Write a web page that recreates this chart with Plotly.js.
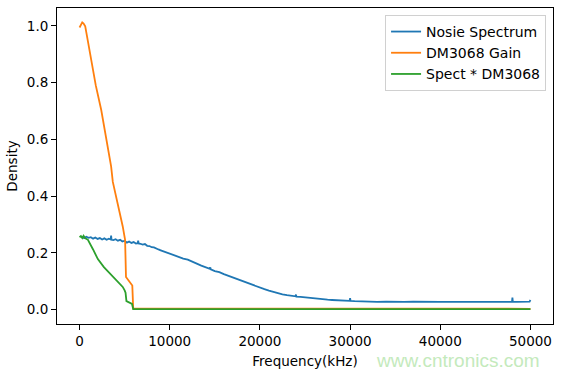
<!DOCTYPE html>
<html>
<head>
<meta charset="utf-8">
<script src="https://cdn.plot.ly/plotly-3.0.1.min.js"></script>
<style>html,body{margin:0;padding:0;background:#fff;}#chart{width:561px;height:373px;}</style>
</head>
<body>
<div id="chart"></div>
<script>
// Noise spectrum (blue)
const spectFreq = [250,500,750,1000,1250,1500,1750,2000,2250,2500,2750,3000,3250,3450,3500,3550,3750,4000,4250,4500,4750,5000,5250,5500,5750,6000,6250,6450,6500,6550,6750,7000,7250,7500,7750,8000,8250,8500,8750,9000,9250,9500,9750,10000,
  10500,11000,11500,12000,12500,13000,13500,14000,14450,14500,14550,15000,15500,16000,16500,17000,17500,18000,18500,19000,19500,20000,20500,21000,21500,22000,22500,23000,23500,23950,24000,24050,24500,25000,25500,26000,26500,27000,27500,28000,28500,29000,29500,29950,30000,30050,30500,31000,31500,32000,33000,34000,35000,36000,37000,38000,39000,40000,41000,42000,43000,44000,45000,46000,47000,47950,48000,48050,48500,49000,49500,49900,50000];
const spectVal = [0.258,0.252,0.257,0.253,0.255,0.250,0.254,0.249,0.252,0.247,0.251,0.246,0.250,0.247,0.261,0.246,0.245,0.248,0.243,0.246,0.240,0.243,0.236,0.240,0.235,0.238,0.233,0.234,0.243,0.233,0.232,0.229,0.231,0.225,0.224,0.220,0.219,0.214,0.212,0.209,0.206,0.204,0.200,0.199,
  0.192,0.186,0.180,0.176,0.168,0.162,0.155,0.150,0.144,0.149,0.142,0.136,0.132,0.125,0.119,0.113,0.107,0.100,0.094,0.088,0.082,0.077,0.072,0.067,0.062,0.058,0.054,0.051,0.048,0.047,0.053,0.046,0.045,0.043,0.041,0.040,0.038,0.036,0.035,0.034,0.033,0.032,0.031,0.031,0.040,0.031,0.030,0.029,0.028,0.028,0.027,0.028,0.027,0.027,0.028,0.027,0.026,0.027,0.027,0.028,0.027,0.027,0.026,0.027,0.027,0.027,0.042,0.027,0.027,0.027,0.027,0.028,0.034];

// DM3068 gain (orange)
const gainFreq = [0,150,300,450,630,900,1290,1800,2400,3000,3500,3690,4130,4240,4790,5050,5150,5850,5950,50000];
const gainVal  = [0.994,1.006,1.012,1.008,0.998,0.950,0.880,0.790,0.704,0.600,0.505,0.450,0.390,0.364,0.293,0.246,0.115,0.085,0.004,0.003];

// Spect * DM3068 (green)
const prodFreq = [0,150,300,450,600,930,1500,2030,2700,3500,4200,4790,5000,5100,5200,5820,5950,50000];
const prodVal  = [0.255,0.259,0.252,0.260,0.252,0.246,0.212,0.178,0.150,0.122,0.100,0.080,0.068,0.060,0.030,0.020,0.002,0.002];

const names = ['Nosie Spectrum','DM3068 Gain','Spect * DM3068'];
const colors = ['#1f77b4','#ff7f0e','#2ca02c'];

const font = {family:'DejaVu Sans', size:13.5, color:'#000'};
const traces = [
  {x:spectFreq, y:spectVal, name:names[0], legendgroup:'a', mode:'lines', line:{color:colors[0], width:1.8}},
  {x:gainFreq, y:gainVal, name:names[1], legendgroup:'b', mode:'lines', line:{color:colors[1], width:1.8}},
  {x:prodFreq, y:prodVal, name:names[2], legendgroup:'c', mode:'lines', line:{color:colors[2], width:1.8}}
];
const axisCommon = {showline:true, linecolor:'#000', linewidth:1, mirror:true, ticks:'outside', ticklen:5, tickcolor:'#000', showgrid:false, zeroline:false, tickfont:font};
const layout = {
  width:561, height:373,
  margin:{l:57, r:8, t:8, b:49},
  paper_bgcolor:'#fff', plot_bgcolor:'#fff',
  font:font,
  showlegend:true,
  legend:{x:0.986, y:0.978, xanchor:'right', yanchor:'top', bgcolor:'rgba(255,255,255,0.8)', bordercolor:'#d0d0d0', borderwidth:1, font:{family:'DejaVu Sans', size:14, color:'#000'}, itemwidth:30, tracegroupgap:0},
  xaxis:Object.assign({}, axisCommon, {range:[-2500,52500], tickvals:[0,10000,20000,30000,40000,50000], ticktext:['0','10000','20000','30000','40000','50000'], title:{text:'Frequency(kHz)', font:font, standoff:8}}),
  yaxis:Object.assign({}, axisCommon, {range:[-0.0506,1.0626], tickvals:[0,0.2,0.4,0.6,0.8,1.0], ticktext:['0.0','0.2','0.4','0.6','0.8','1.0'], title:{text:'Density', font:font, standoff:6}}),
  annotations:[{text:'www.cntronics.com', xref:'paper', yref:'paper', x:0.978, y:-0.075, xanchor:'right', yanchor:'top', showarrow:false, font:{family:'Liberation Sans', size:19, color:'#c4eabc'}}]
};
Plotly.newPlot('chart', traces, layout, {displayModeBar:false, staticPlot:true});
</script>
</body>
</html>
